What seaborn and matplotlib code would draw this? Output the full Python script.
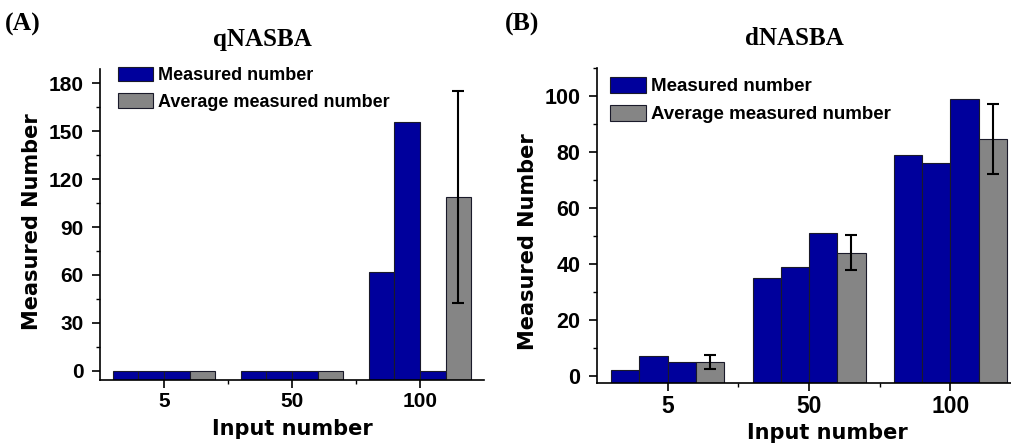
import numpy as np
import pandas as pd
import matplotlib
matplotlib.use('Agg')
import matplotlib.pyplot as plt
import seaborn as sns
from matplotlib.patches import Patch
from matplotlib.ticker import MultipleLocator, FixedLocator

# Data
inputs = ['5', '50', '100']
series = ['Rep 1', 'Rep 2', 'Rep 3', 'Average']
legend_labels = ['Measured number', 'Average measured number']

# (A) qNASBA
q_rep1 = [0, 0, 62]
q_rep2 = [0, 0, 156]
q_rep3 = [0, 0, 0]
q_avg = [0, 0, 109]
q_err = [0, 0, 66.5]

# (B) dNASBA
d_rep1 = [2, 35, 79]
d_rep2 = [7, 39, 76]
d_rep3 = [5, 51, 99]
d_avg = [5, 44, 84.5]
d_err = [2.5, 6.2, 12.5]

blue = '#00009c'
gray = '#858585'
edge = '#1a1a2a'
palette = {'Rep 1': blue, 'Rep 2': blue, 'Rep 3': blue, 'Average': gray}

sns.set_style('ticks')
plt.rcParams['font.family'] = ['Liberation Sans', 'DejaVu Sans']
plt.rcParams['font.weight'] = 'bold'
plt.rcParams['axes.linewidth'] = 1.2
plt.rcParams['text.color'] = 'black'
plt.rcParams['axes.labelcolor'] = 'black'
plt.rcParams['axes.edgecolor'] = 'black'
plt.rcParams['xtick.color'] = 'black'
plt.rcParams['ytick.color'] = 'black'


def make_df(r1, r2, r3, avg):
    rows = []
    for name, vals in zip(series, [r1, r2, r3, avg]):
        for inp, v in zip(inputs, vals):
            rows.append({'Input': inp, 'Series': name, 'Value': v})
    return pd.DataFrame(rows)


def draw_panel(ax, df, avg, err, ylim, major, minor, xsize, ysize):
    # bars start at the bottom of the axis, like the original Origin plot
    base = ylim[0]
    df['Height'] = df['Value'] - base
    sns.barplot(data=df, x='Input', y='Height', hue='Series', order=inputs,
                hue_order=series, palette=palette, saturation=1, width=0.8,
                bottom=base, edgecolor=edge, linewidth=0.8,
                errorbar=None, legend=False, ax=ax)
    # error bars on the average bars
    grays = [p for p in ax.patches
             if np.allclose(p.get_facecolor()[:3], matplotlib.colors.to_rgb(gray))]
    grays = sorted(grays, key=lambda p: p.get_x())
    xs = np.array([p.get_x() + p.get_width() / 2 for p in grays])
    avg = np.array(avg)
    err = np.array(err)
    m = err > 0
    ax.errorbar(xs[m], avg[m], yerr=err[m], fmt='none', ecolor='black',
                elinewidth=1.5, capsize=4, capthick=1.5)
    ax.set_xlim(-0.5, 2.5)
    ax.set_ylim(*ylim)
    ax.yaxis.set_major_locator(MultipleLocator(major))
    ax.yaxis.set_minor_locator(MultipleLocator(minor))
    ax.xaxis.set_minor_locator(FixedLocator([0.5, 1.5]))
    ax.tick_params(axis='both', which='major', direction='out', length=6,
                   width=1.2, colors='black')
    ax.tick_params(axis='both', which='minor', direction='out', length=3,
                   width=1.0, colors='black')
    ax.tick_params(axis='x', which='major', labelsize=xsize, pad=2.5)
    ax.tick_params(axis='y', which='major', labelsize=ysize, pad=6)
    for lab in ax.get_xticklabels() + ax.get_yticklabels():
        lab.set_fontweight('bold')
    sns.despine(ax=ax)
    ax.set_xlabel('Input number', fontsize=15, fontweight='bold',
                  family='DejaVu Sans', color='black')
    ax.set_ylabel('Measured Number', fontsize=15, fontweight='bold',
                  family='DejaVu Sans', color='black')
    handles = [Patch(facecolor=blue, edgecolor=edge, linewidth=0.8),
               Patch(facecolor=gray, edgecolor=edge, linewidth=0.8)]
    return handles


fig = plt.figure(figsize=(10.12, 4.46), dpi=100)

axA = fig.add_axes([0.0988, 0.148, 0.3794, 0.697])
hA = draw_panel(axA, make_df(q_rep1, q_rep2, q_rep3, q_avg), q_avg, q_err,
                (-5.8, 189), 30, 15, 15, 15)
axA.yaxis.set_label_coords(-0.152, 0.509)
axA.xaxis.set_label_coords(0.5, -0.126)
axA.legend(hA, legend_labels, loc='upper left',
           bbox_to_anchor=(0.048, 1.008), frameon=False,
           handlelength=1.9, handleheight=0.87, handletextpad=0.3,
           labelspacing=0.5, borderpad=0, borderaxespad=0,
           prop={'weight': 'bold', 'size': 13}, labelcolor='black')

axB = fig.add_axes([0.590, 0.1413, 0.419, 0.706])
hB = draw_panel(axB, make_df(d_rep1, d_rep2, d_rep3, d_avg), d_avg, d_err,
                (-2.6, 110), 20, 10, 16.5, 15.5)
axB.yaxis.set_label_coords(-0.14, 0.448)
axB.xaxis.set_label_coords(0.544, -0.126)
axB.legend(hB, legend_labels, loc='upper left',
           bbox_to_anchor=(0.031, 0.973), frameon=False,
           handlelength=1.9, handleheight=0.95, handletextpad=0.3,
           labelspacing=0.5, borderpad=0, borderaxespad=0,
           prop={'weight': 'bold', 'size': 13.5}, labelcolor='black')

# panel letters and titles
serif = ['Liberation Serif', 'DejaVu Serif']
fig.text(5 / 1012, 1 - 31 / 446, '(A)', family=serif,
         fontweight='bold', fontsize=18.5, ha='left', va='baseline')
fig.text(505 / 1012, 1 - 31 / 446, '(B)', family=serif,
         fontweight='bold', fontsize=18.5, ha='left', va='baseline')
fig.text(262 / 1012, 1 - 46 / 446, 'qNASBA', family=serif,
         fontweight='bold', fontsize=18, ha='center', va='baseline')
fig.text(794 / 1012, 1 - 45 / 446, 'dNASBA', family=serif,
         fontweight='bold', fontsize=18, ha='center', va='baseline')

fig.savefig('out.png', dpi=100)
